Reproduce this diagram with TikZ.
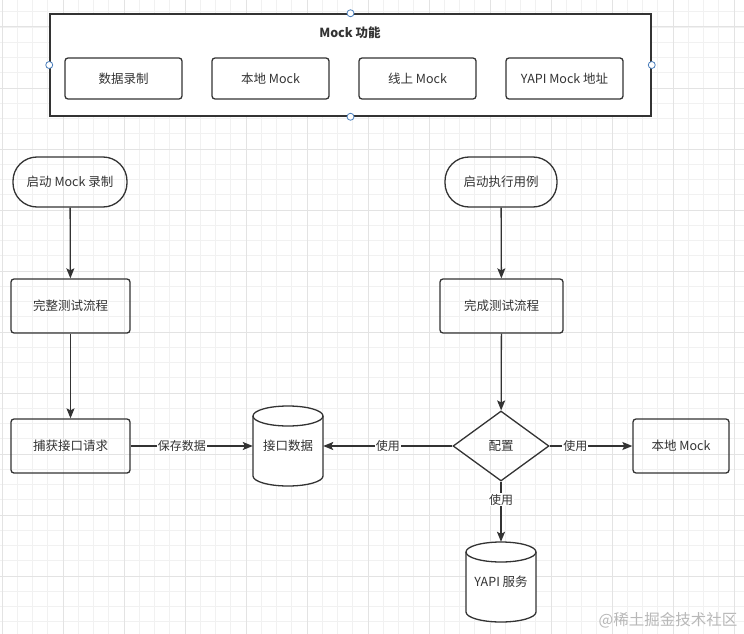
\documentclass[tikz,border=0pt]{standalone}
\usepackage{fontspec}
\setmainfont{Noto Sans CJK SC}
\usetikzlibrary{shapes.geometric,arrows.meta}
\definecolor{ink}{HTML}{333333}
\definecolor{gridminor}{HTML}{F1F1F1}
\definecolor{gridmajor}{HTML}{E3E3E3}
\definecolor{handle}{HTML}{4A7EBB}
\tikzset{
  box/.style={draw=ink, line width=1.3pt, rounded corners=3pt, text=ink, font=\fontsize{12.5}{14}\selectfont, inner sep=0pt},
  pill/.style={draw=ink, line width=1.3pt, rounded corners=24pt, text=ink, font=\fontsize{12.5}{14}\selectfont, inner sep=0pt},
  ghost/.style={inner sep=0pt, text=ink, font=\fontsize{12.5}{14}\selectfont},
  conn/.style={draw=ink, line width=1.3pt, -{Stealth[length=10pt,width=8pt,inset=2pt]}},
  lbl/.style={fill=white, text=ink, inner sep=1pt, font=\fontsize{12}{14}\selectfont},
  hdl/.style={draw=handle, fill=white, line width=0.8pt, circle, minimum size=7pt, inner sep=0pt},
}
\newcommand{\drawcyl}[2]{%
  \draw[ink, line width=1.3pt, fill=white] (#1-35,#2-30) -- (#1-35,#2+30) arc[start angle=180,end angle=0,x radius=35,y radius=10] -- (#1+35,#2-30);
  \draw[ink, line width=1.3pt, fill=white] (#1,#2-30) ellipse[x radius=35,y radius=10];
}
\begin{document}
\begin{tikzpicture}[x=1pt,y=-1pt]
\useasboundingbox (0,0) rectangle (744,634);
\fill[white] (0,0) rectangle (744,634);
% grid
\foreach \i in {-1,...,50} {
  \draw[gridminor, line width=0.8pt] ({2+15.25*\i},0) -- ({2+15.25*\i},634);
  \draw[gridminor, line width=0.8pt] (0,{-34+15.25*\i}) -- (744,{-34+15.25*\i});
}
\foreach \i in {0,...,13} {
  \draw[gridmajor, line width=1pt] ({2+61*\i},0) -- ({2+61*\i},634);
  \draw[gridmajor, line width=1pt] (0,{-34+61*\i}) -- (744,{-34+61*\i});
}
% container
\node[draw=ink, line width=1.5pt, fill=white, minimum width=601pt, minimum height=102pt, inner sep=0pt] (cont) at (350.5,65) {};
\node[text=ink, font=\bfseries\fontsize{12.5}{14}\selectfont] (title) at (350,33) {Mock 功能};
\node[box, minimum width=117pt, minimum height=41pt] (b1) at (123.5,78.5) {数据录制};
\node[box, minimum width=117pt, minimum height=41pt] (b2) at (270.5,78.5) {本地 Mock};
\node[box, minimum width=117pt, minimum height=41pt] (b3) at (417.5,78.5) {线上 Mock};
\node[box, minimum width=117pt, minimum height=41pt] (b4) at (564.5,78.5) {YAPI Mock 地址};
\node[hdl] (h1) at (cont.north) {};
\node[hdl] (h2) at (cont.south) {};
\node[hdl] (h3) at (cont.west) {};
\node[hdl] (h4) at (cont.east) {};
% left column
\node[pill, minimum width=114pt, minimum height=50pt] (s1) at (70,182) {启动 Mock 录制};
\node[box, minimum width=119pt, minimum height=54pt] (r1) at (70.5,306) {完整测试流程};
\node[box, minimum width=119pt, minimum height=54pt] (r2) at (70.5,446) {捕获接口请求};
% cylinder data
\drawcyl{288}{446}
\node[ghost, minimum width=70pt, minimum height=80pt] (db) at (288,446) {接口数据};
% right column
\node[pill, minimum width=112pt, minimum height=50pt] (s2) at (501,182) {启动执行用例};
\node[box, minimum width=123pt, minimum height=54pt] (r3) at (501.5,306) {完成测试流程};
\node[diamond, draw=ink, line width=1.3pt, minimum width=96pt, minimum height=70pt, inner sep=0pt, aspect=1.37, text=ink, font=\fontsize{12.5}{14}\selectfont] (cfg) at (501,446) {配置};
\node[box, minimum width=96pt, minimum height=54pt] (lm) at (681,446) {本地 Mock};
\drawcyl{501}{582}
\node[ghost, minimum width=70pt, minimum height=80pt] (yapi) at (501,582) {YAPI 服务};
% connectors
\draw[conn] (s1) -- (r1);
\draw[conn] (r1) -- (r2);
\draw[conn] (r2) -- node[lbl, pos=0.42] {保存数据} (db);
\draw[conn] (s2) -- (r3);
\draw[conn] (r3) -- (cfg);
\draw[conn] (cfg) -- node[lbl, pos=0.5] {使用} (db);
\draw[conn] (cfg) -- node[lbl, pos=0.31] {使用} (lm);
\draw[conn] (cfg) -- node[lbl, pos=0.3] {使用} (yapi);
% watermark
\node[text=black!28, font=\fontsize{15.5}{17}\selectfont] (wm) at (668,620) {@稀土掘金技术社区};
\end{tikzpicture}
\end{document}
